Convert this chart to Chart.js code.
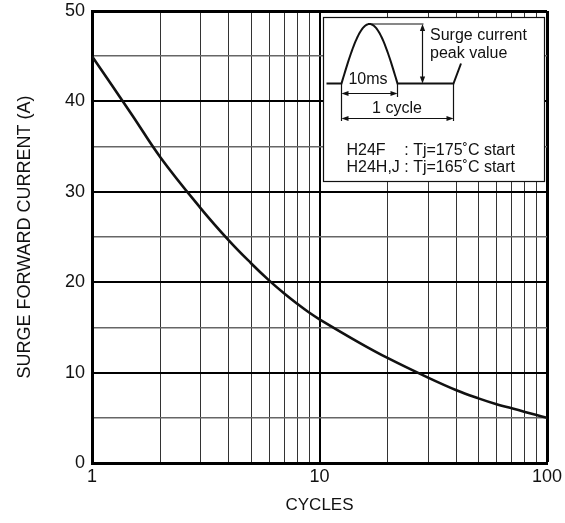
<!DOCTYPE html>
<html>
<head>
<meta charset="utf-8">
<script src="https://cdn.jsdelivr.net/npm/chart.js@4/dist/chart.umd.min.js"></script>
<style>
  html, body { margin: 0; padding: 0; background: #fff; }
  #wrap { width: 565px; height: 523px; }
</style>
</head>
<body>
<div id="wrap"><canvas id="c" width="565" height="523"></canvas></div>
<script>
// Surge forward current vs. number of cycles
const cycles = [1, 1.5, 2, 3, 4, 5, 6, 7, 8, 9, 10, 15, 20, 30, 40, 50, 60, 70, 80, 90, 100];
const surgeAmps = [45, 38.5, 33.8, 28.2, 24.6, 22.1, 20.2, 18.75, 17.6, 16.65, 15.9, 13.3, 11.6, 9.45, 8.05, 7.15, 6.5, 6.05, 5.65, 5.3, 5.0];

// log grid lines and the decades that get a label
const xGridValues = [1, 2, 3, 4, 5, 6, 7, 8, 9, 10, 20, 30, 40, 50, 60, 70, 80, 90, 100];
const xTickLabels = [1, 10, 100];
const yMin = 0, yMax = 50, yStep = 5, yLabelStep = 10;

const FONT = '"Liberation Sans", Arial, Helvetica, sans-serif';
const INK = '#111';

// Waveform sketch and part notes in the upper right corner
const insetPlugin = {
  id: 'surgeInset',
  afterDraw(chart) {
    const ctx = chart.ctx;
    const a = chart.chartArea;
    const w = 222, h = 165;
    const ox = a.right - w - 2, oy = a.top + 6;
    ctx.save();
    ctx.fillStyle = '#fff';
    ctx.fillRect(ox, oy, w, h);
    ctx.strokeStyle = INK;
    ctx.lineWidth = 1.2;
    ctx.strokeRect(ox + 0.5, oy + 0.5, w - 1, h - 1);

    const P = (x, y) => [ox + x, oy + y];
    const line = (x1, y1, x2, y2, lw) => {
      ctx.lineWidth = lw || 1.5;
      ctx.beginPath();
      ctx.moveTo(...P(x1, y1));
      ctx.lineTo(...P(x2, y2));
      ctx.stroke();
    };
    const head = (x, y, dx, dy) => {
      // filled arrow head pointing along (dx,dy)
      const L = 7, Wd = 2.6;
      const px = -dy, py = dx;
      ctx.beginPath();
      ctx.moveTo(...P(x, y));
      ctx.lineTo(...P(x - dx * L + px * Wd, y - dy * L + py * Wd));
      ctx.lineTo(...P(x - dx * L - px * Wd, y - dy * L - py * Wd));
      ctx.closePath();
      ctx.fill();
    };
    ctx.fillStyle = INK;
    ctx.lineCap = 'butt';

    const base = 66.5, peak = 7, x0 = 18.5, x1 = 74.5, x2 = 130.5;
    // waveform
    ctx.lineWidth = 2;
    ctx.beginPath();
    ctx.moveTo(...P(3.5, base));
    ctx.lineTo(...P(x0, base));
    for (let i = 0; i <= 60; i++) {
      const t = i / 60;
      ctx.lineTo(...P(x0 + (x1 - x0) * t, base - (base - peak) * Math.sin(Math.PI * t)));
    }
    ctx.lineTo(...P(x2, base));
    ctx.lineTo(...P(x2 + 7.5, base - 20));
    ctx.stroke();

    // peak reference line and amplitude arrow
    line((x0 + x1) / 2, peak, 100.5, peak, 1.2);
    line(99.5, peak + 3, 99.5, base - 3, 1.2);
    head(99.5, peak, 0, -1);
    head(99.5, base, 0, 1);

    // extension lines
    line(x0, base, x0, 104, 1.2);
    line(x1, base, x1, 80, 1.2);
    line(x2, base, x2, 104, 1.2);

    // 10ms dimension
    line(x0 + 3, 76.5, x1 - 3, 76.5, 1.2);
    head(x0, 76.5, -1, 0);
    head(x1, 76.5, 1, 0);
    // 1 cycle dimension
    line(x0 + 3, 101.5, x2 - 3, 101.5, 1.2);
    head(x0, 101.5, -1, 0);
    head(x2, 101.5, 1, 0);

    ctx.font = '16px ' + FONT;
    ctx.textBaseline = 'alphabetic';
    ctx.textAlign = 'left';
    ctx.fillText('Surge current', ...P(107, 22.5));
    ctx.fillText('peak value', ...P(107, 40.5));
    ctx.textAlign = 'center';
    ctx.fillText('10ms', ...P(45, 67));
    ctx.fillText('1 cycle', ...P(74, 96));
    ctx.textAlign = 'left';
    const lx = 23.5;
    const colonX = lx + ctx.measureText('H24H,J ').width;
    ctx.fillText('H24F', ...P(lx, 138));
    ctx.fillText(': Tj=175˚C start', ...P(colonX, 138));
    ctx.fillText('H24H,J', ...P(lx, 155));
    ctx.fillText(': Tj=165˚C start', ...P(colonX, 155));
    ctx.restore();
  }
};

new Chart(document.getElementById('c'), {
  type: 'line',
  data: {
    datasets: [{
      data: cycles.map((c, i) => ({ x: c, y: surgeAmps[i] })),
      borderColor: '#111',
      borderWidth: 2.6,
      pointRadius: 0,
      fill: false,
      tension: 0.4
    }]
  },
  options: {
    responsive: false,
    animation: false,
    devicePixelRatio: 1,
    layout: { padding: { top: 11, right: 18, bottom: 0, left: 0 } },
    plugins: { legend: { display: false }, tooltip: { enabled: false } },
    scales: {
      x: {
        type: 'logarithmic',
        min: 1,
        max: 100,
        afterBuildTicks(scale) {
          scale.ticks = xGridValues.map(v => ({ value: v }));
        },
        afterFit(scale) {
          scale.height = 60;
          scale.paddingLeft = 0;
          scale.paddingRight = 0;
        },
        border: { display: true, color: '#000', width: 3 },
        grid: {
          drawTicks: false,
          color: ctx => xTickLabels.includes(ctx.tick && ctx.tick.value) ? '#000' : '#333',
          lineWidth: ctx => {
            const v = ctx.tick && ctx.tick.value;
            if (v === 100) return 3;
            return xTickLabels.includes(v) ? 2 : 1;
          }
        },
        ticks: {
          autoSkip: false,
          maxRotation: 0,
          padding: 3,
          color: INK,
          font: { family: FONT, size: 18 },
          callback: v => xTickLabels.includes(v) ? String(v) : ''
        },
        title: {
          display: true,
          text: 'CYCLES',
          color: INK,
          font: { family: FONT, size: 17 },
          padding: { top: 0, bottom: 7 }
        }
      },
      y: {
        type: 'linear',
        min: yMin,
        max: yMax,
        afterFit(scale) {
          scale.width = 92;
          scale.paddingTop = 0;
          scale.paddingBottom = 0;
        },
        border: { display: true, color: '#000', width: 3 },
        grid: {
          drawTicks: false,
          color: ctx => (ctx.tick && ctx.tick.value % yLabelStep === 0) ? '#000' : '#666',
          lineWidth: ctx => {
            const v = ctx.tick && ctx.tick.value;
            if (v === yMax) return 3;
            return v % yLabelStep === 0 ? 2 : 1.5;
          }
        },
        ticks: {
          stepSize: yStep,
          autoSkip: false,
          padding: 7,
          color: INK,
          font: { family: FONT, size: 18 },
          callback: v => v % yLabelStep === 0 ? String(v) : ''
        },
        title: {
          display: true,
          text: 'SURGE FORWARD CURRENT (A)',
          color: INK,
          font: { family: FONT, size: 18 },
          padding: { top: 14, bottom: 0 }
        }
      }
    }
  },
  plugins: [insetPlugin]
});
</script>
</body>
</html>
